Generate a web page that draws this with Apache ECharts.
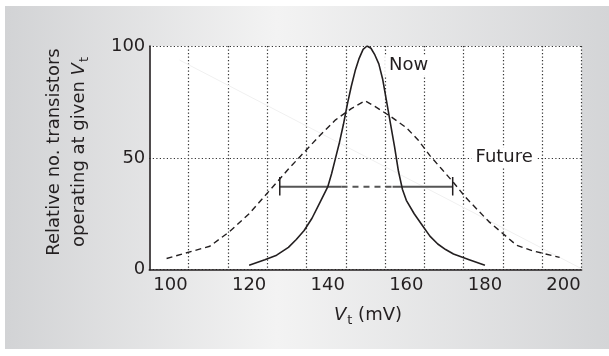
<!DOCTYPE html>
<html>
<head>
<meta charset="utf-8">
<script src="https://cdn.jsdelivr.net/npm/echarts@6/dist/echarts.min.js"></script>
<style>
html,body{margin:0;padding:0;background:#fff;}
#chart{width:609px;height:356px;}
</style>
</head>
<body>
<div id="chart"></div>
<script>
// ---- data ----
const xMin = 94.6, xMax = 204.6;
const xTickLabels = [100, 120, 140, 160, 180, 200];
const xGridLines = [104.6, 114.6, 124.6, 134.6, 144.6, 154.6, 164.6, 174.6, 184.6, 194.6, 204.6];
const yTicks = [0, 50, 100];

const nowX = [120, 124, 127, 130, 132, 134, 136, 138, 140, 141, 142, 143, 144, 145, 146, 147, 148, 149, 150, 151, 152, 153, 154, 155, 156, 157, 158, 159, 160, 162, 164, 166, 168, 170, 172, 176, 180];
const nowY = [2, 4.5, 6.5, 10, 13.5, 17.5, 23, 30, 37, 43, 50, 57, 65, 74, 82, 89, 94.5, 98.5, 100, 99, 96, 92, 85, 75, 65, 55, 44, 36, 31, 25, 20, 15, 11.5, 9, 7, 4.5, 2];

const futureX = [99, 110, 115, 120, 125, 130, 134, 138, 142, 146, 149.5, 152, 156, 160, 163, 166, 169, 172, 175, 178, 181, 184, 188, 192, 199];
const futureY = [5, 10.5, 17, 25, 35, 45, 52.5, 60, 67, 72, 75.5, 73, 68.5, 63.5, 58, 51, 45, 39, 32.5, 27, 21.5, 17, 11, 8.5, 5.5];

// spread bar (future variation) and its dashed middle part
const barY = 37.1;
const barX = [127.8, 143.5, 156.5, 171.8];   // solid | dashed | solid
const capY = [33.2, 41.4];

// faint ghost line in the scan
const ghostX = [102.3, 204.4];
const ghostY = [93.7, 0.6];

// curve names placed as labels
const labelNames = ['Now', 'Future'];
const labelX = [160.6, 184.9];
const labelY = [91.2, 50.3];

const pairs = (xs, ys) => xs.map((x, i) => [x, ys[i]]);
const ink = '#231f20';
const FONT = 'DejaVu Sans';

const chart = echarts.init(document.getElementById('chart'), null, {renderer: 'canvas'});

const option = {
  animation: false,
  backgroundColor: '#ffffff',
  textStyle: {fontFamily: FONT, color: ink},
  graphic: [
    {
      type: 'rect', z: -10, silent: true,
      shape: {x: 5, y: 6, width: 604, height: 343},
      style: {
        fill: new echarts.graphic.LinearGradient(0, 0, 1, 0, [
          {offset: 0, color: '#d2d3d5'},
          {offset: 0.45, color: '#f3f3f3'},
          {offset: 1, color: '#d4d5d7'}
        ])
      }
    },
    {
      type: 'text', z: 10,
      x: 67, y: 152, rotation: Math.PI / 2,
      style: {
        text: 'Relative no. transistors\noperating at given {v|V}{s|t}',
        fontFamily: FONT, fontSize: 18, fill: ink, lineHeight: 25,
        align: 'center', verticalAlign: 'middle',
        rich: {
          v: {fontFamily: FONT, fontSize: 18, fontStyle: 'italic', fill: ink, lineHeight: 25},
          s: {fontFamily: FONT, fontSize: 13, fill: ink, lineHeight: 13, padding: [11, 0, 0, 1]}
        }
      }
    },
    {
      type: 'text', z: 10,
      x: 368, y: 316,
      style: {
        text: '{v|V}{s|t}{n| (mV)}',
        fontFamily: FONT, fontSize: 18, fill: ink,
        align: 'center', verticalAlign: 'middle',
        rich: {
          v: {fontFamily: FONT, fontSize: 18, fontStyle: 'italic', fill: ink, lineHeight: 20, verticalAlign: 'top'},
          s: {fontFamily: FONT, fontSize: 13, fill: ink, lineHeight: 13, padding: [10, 0, 0, 1]},
          n: {fontFamily: FONT, fontSize: 18, fill: ink, lineHeight: 20, verticalAlign: 'top'}
        }
      }
    }
  ],
  grid: {
    left: 149.3, right: 27.4, top: 46, bottom: 86.3,
    show: true, backgroundColor: '#ffffff', borderWidth: 0
  },
  xAxis: {
    type: 'value', min: xMin, max: xMax,
    axisLine: {show: true, onZero: false, lineStyle: {color: ink, width: 1.6}},
    axisTick: {show: false, customValues: xGridLines},
    axisLabel: {customValues: xTickLabels, fontFamily: FONT, fontSize: 18, color: ink, margin: 7},
    splitLine: {show: true, lineStyle: {color: '#333', width: 1.2, type: [1.2, 2.3]}}
  },
  yAxis: {
    type: 'value', min: 0, max: 100, interval: 50,
    axisLine: {show: true, lineStyle: {color: ink, width: 1.6}},
    axisTick: {show: false},
    axisLabel: {fontFamily: FONT, fontSize: 18, color: ink, margin: 4, customValues: yTicks},
    splitLine: {show: true, lineStyle: {color: '#333', width: 1.2, type: [1.2, 2.3]}}
  },
  series: [
    {
      name: 'ghost', type: 'line', data: pairs(ghostX, ghostY), showSymbol: false, silent: true,
      lineStyle: {color: '#f0f0f0', width: 1}, z: 1
    },
    {
      name: 'Future', type: 'line', data: pairs(futureX, futureY), showSymbol: false,
      lineStyle: {color: ink, width: 1.4, type: [6, 4]}, z: 3
    },
    {
      name: 'Now', type: 'line', data: pairs(nowX, nowY), showSymbol: false,
      lineStyle: {color: ink, width: 1.6}, z: 4
    },
    {
      name: 'spreadL', type: 'line', data: [[barX[0], barY], [barX[1], barY]], showSymbol: false,
      lineStyle: {color: '#555', width: 2}, z: 2
    },
    {
      name: 'spreadM', type: 'line', data: [[barX[1], barY], [barX[2], barY]], showSymbol: false,
      lineStyle: {color: '#555', width: 2, type: [6, 5]}, z: 2
    },
    {
      name: 'spreadR', type: 'line', data: [[barX[2], barY], [barX[3], barY]], showSymbol: false,
      lineStyle: {color: '#555', width: 2}, z: 2
    },
    {
      name: 'capL', type: 'line', data: [[barX[0], capY[0]], [barX[0], capY[1]]], showSymbol: false,
      lineStyle: {color: ink, width: 1.5}, z: 2
    },
    {
      name: 'capR', type: 'line', data: [[barX[3], capY[0]], [barX[3], capY[1]]], showSymbol: false,
      lineStyle: {color: ink, width: 1.5}, z: 2
    },
    {
      name: 'labels', type: 'scatter', symbolSize: 0, z: 6, silent: true,
      itemStyle: {opacity: 1},
      data: labelNames.map((n, i) => ({name: n, value: [labelX[i], labelY[i]]})),
      label: {
        show: true, position: 'inside', formatter: p => p.name,
        fontFamily: FONT, fontSize: 18, color: ink, opacity: 1,
        backgroundColor: '#ffffff', padding: [1, 4]
      }
    }
  ]
};
chart.setOption(option);
</script>
</body>
</html>
